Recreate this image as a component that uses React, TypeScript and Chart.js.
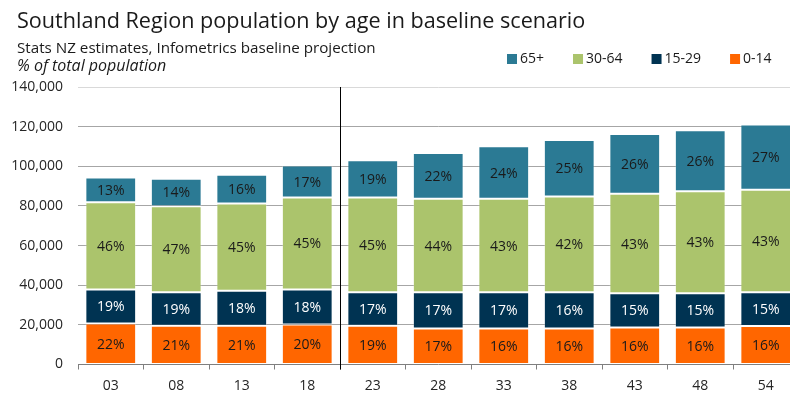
import React, { useEffect, useRef } from "react";
import { Chart, registerables } from "chart.js";

Chart.register(...registerables);

const FONT = "'Open Sans', 'Noto Sans', sans-serif";

const titleText = "Southland Region population by age in baseline scenario";
const subtitleText = "Stats NZ estimates, Infometrics baseline projection";
const unitText = "% of total population";

const categories = ["03", "08", "13", "18", "23", "28", "33", "38", "43", "48", "54"];

// population counts (stacked bottom to top)
const age0to14 = [20700, 19500, 19500, 20200, 19500, 18200, 18200, 18200, 18700, 18700, 19400];
const age15to29 = [17200, 16900, 17700, 17700, 16900, 18200, 18200, 18200, 17200, 17200, 17000];
const age30to64 = [44000, 43500, 44000, 46300, 47800, 47200, 47200, 48300, 50200, 51500, 51700];
const age65plus = [12500, 13800, 14500, 16200, 18900, 23100, 26500, 28600, 30200, 30800, 33000];

// share labels shown in each segment
const pct0to14 = [22, 21, 21, 20, 19, 17, 16, 16, 16, 16, 16];
const pct15to29 = [19, 19, 18, 18, 17, 17, 17, 16, 15, 15, 15];
const pct30to64 = [46, 47, 45, 45, 45, 44, 43, 42, 43, 43, 43];
const pct65plus = [13, 14, 16, 17, 19, 22, 24, 25, 26, 26, 27];

const seriesNames = ["0-14", "15-29", "30-64", "65+"];
const seriesColors = ["#ff6600", "#003352", "#abc46c", "#2b7a94"];
const labelColors = ["#1a1a1a", "#ffffff", "#1a1a1a", "#1a1a1a"];

const yMin = 0;
const yMax = 140000;
const yStep = 20000;
const projectionStartIndex = 4; // first projected year ("23")

export default function App() {
  const canvasRef = useRef<HTMLCanvasElement | null>(null);

  useEffect(() => {
    const canvas = canvasRef.current;
    if (!canvas) return;
    const pctSets = [pct0to14, pct15to29, pct30to64, pct65plus];
    const valueSets = [age0to14, age15to29, age30to64, age65plus];

    const headerPlugin = {
      id: "header",
      afterDraw(chart: any) {
        const ctx = chart.ctx;
        ctx.save();
        ctx.fillStyle = "#1a1a1a";
        ctx.textAlign = "left";
        ctx.textBaseline = "alphabetic";
        ctx.font = `21.6px ${FONT}`;
        ctx.fillText(titleText, 17, 28);
        ctx.font = `15.2px ${FONT}`;
        ctx.fillText(subtitleText, 17, 53);
        ctx.font = `italic 16px ${FONT}`;
        ctx.fillText(unitText, 17, 71);

        // legend (reverse order, top series first)
        ctx.font = `14px ${FONT}`;
        ctx.textBaseline = "middle";
        let x = 507;
        const ds = chart.data.datasets;
        for (let i = ds.length - 1; i >= 0; i--) {
          ctx.fillStyle = ds[i].backgroundColor;
          ctx.fillRect(x, 54, 10, 10);
          ctx.fillStyle = "#1a1a1a";
          ctx.fillText(ds[i].label, x + 13, 59);
          x += 13 + ctx.measureText(ds[i].label).width + 29;
        }
        ctx.restore();
      },
    };

    const labelsPlugin = {
      id: "segLabels",
      afterDatasetsDraw(chart: any) {
        const ctx = chart.ctx;
        ctx.save();
        ctx.font = `14px ${FONT}`;
        ctx.textAlign = "center";
        ctx.textBaseline = "middle";
        chart.data.datasets.forEach((d: any, di: number) => {
          const meta = chart.getDatasetMeta(di);
          meta.data.forEach((bar: any, i: number) => {
            const props = bar.getProps(["x", "y", "base"], true);
            ctx.fillStyle = labelColors[di];
            ctx.fillText(`${pctSets[di][i]}%`, props.x, (props.y + props.base) / 2 + 1);
          });
        });
        // projection divider
        const xs = chart.scales.x;
        const px = Math.round((xs.getPixelForValue(projectionStartIndex - 1) + xs.getPixelForValue(projectionStartIndex)) / 2) + 0.5;
        ctx.strokeStyle = "#000000";
        ctx.lineWidth = 1;
        ctx.beginPath();
        ctx.moveTo(px, chart.chartArea.top);
        ctx.lineTo(px, chart.chartArea.bottom + 5);
        ctx.stroke();
        ctx.restore();
      },
    };

    const chart = new Chart(canvas, {
      type: "bar",
      data: {
        labels: categories,
        datasets: seriesNames.map((name, i) => ({
          label: name,
          data: valueSets[i],
          backgroundColor: seriesColors[i],
          borderColor: "rgba(255,255,255,0.25)",
          borderWidth: 1,
          borderSkipped: false,
          barPercentage: 0.775,
          categoryPercentage: 1,
        })),
      },
      options: {
        responsive: false,
        animation: false,
        layout: { padding: { top: 87, left: 0, right: 1.5, bottom: 0 } },
        plugins: {
          legend: { display: false },
          title: { display: false },
          tooltip: { enabled: false },
        },
        scales: {
          x: {
            stacked: true,
            afterFit: (scale: any) => {
              scale.height = 29.5;
            },
            grid: {
              offset: true,
              drawOnChartArea: false,
              drawTicks: true,
              tickLength: 5,
              color: "#7f7f7f",
            },
            border: { display: true, color: "#7f7f7f" },
            ticks: { font: { family: FONT, size: 14 }, color: "#262626", padding: 8 },
          },
          y: {
            stacked: true,
            min: yMin,
            max: yMax,
            afterFit: (scale: any) => {
              scale.width = 78;
            },
            border: { display: false },
            grid: {
              drawTicks: false,
              color: (c: any) =>
                c.tick && c.tick.value === yMin ? "rgba(0,0,0,0)" : c.tick && c.tick.value === yMax ? "#d9d9d9" : "#a6a6a6",
            },
            ticks: {
              stepSize: yStep,
              padding: 15,
              font: { family: FONT, size: 14 },
              color: "#262626",
              callback: (v: any) => Number(v).toLocaleString("en-US"),
            },
          },
        },
      },
      plugins: [labelsPlugin, headerPlugin],
    });
    return () => chart.destroy();
  }, []);

  return (
    <div style={{ position: "fixed", left: 0, top: 0, width: 790, height: 394, overflow: "hidden", background: "#ffffff" }}>
      <canvas ref={canvasRef} width={800} height={394} style={{ display: "block" }} />
    </div>
  );
}
